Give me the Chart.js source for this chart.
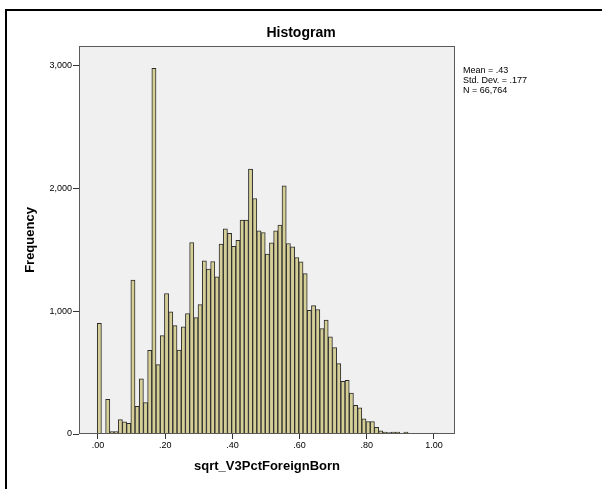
<!DOCTYPE html>
<html>
<head>
<meta charset="utf-8">
<script src="https://cdn.jsdelivr.net/npm/chart.js@4.4.1/dist/chart.umd.min.js"></script>
<style>
  html, body { margin: 0; padding: 0; background: #fff; }
</style>
</head>
<body>
<canvas id="hist" width="602" height="489"></canvas>
<script>
// bins of sqrt_V3PctForeignBorn, first bin centre and width
var binFirst = 0.004;
var binWidth = 0.0125;

// frequency per bin
var frequency = [
    903, 0, 283, 20, 20, 117, 100, 86, 1254, 225, 449, 257, 683,
    2981, 566, 802, 1145, 996, 884, 685, 873, 982, 1561, 949, 1055,
    1412, 1344, 1406, 1281, 1548, 1673, 1635, 1529, 1578, 1744, 1744, 2160,
    1920, 1657, 1643, 1466, 1559, 1657, 1703, 2024, 1553, 1526, 1439, 1404,
    1308, 1009, 1047, 1015, 860, 928, 792, 704, 574, 430, 438, 334,
    233, 214, 124, 102, 102, 55, 26, 15, 12, 15, 15, 6, 15, 3, 0, 3, 0, 0, 0, 8
];

var xTickValues = [0, 0.2, 0.4, 0.6, 0.8, 1.0];
var xTickLabels = ['.00', '.20', '.40', '.60', '.80', '1.00'];
var yTickValues = [0, 1000, 2000, 3000];
var yTickLabels = ['0', '1,000', '2,000', '3,000'];
var statLines = ['Mean = .43', 'Std. Dev. = .177', 'N = 66,764'];

var fontFamily = "'Liberation Sans', Arial, sans-serif";

var points = frequency.map(function (f, i) {
    return { x: binFirst + i * binWidth, y: f };
});

// grey plot background, white page
var backdrop = {
    id: 'backdrop',
    beforeDraw: function (chart) {
        var ctx = chart.ctx, a = chart.chartArea;
        ctx.save();
        ctx.fillStyle = '#ffffff';
        ctx.fillRect(0, 0, chart.width, chart.height);
        ctx.fillStyle = '#f0f0f0';
        ctx.fillRect(a.left, a.top, a.right - a.left, a.bottom - a.top);
        ctx.restore();
    },
    afterDatasetsDraw: function (chart) {
        var ctx = chart.ctx, a = chart.chartArea;
        ctx.save();
        ctx.strokeStyle = '#5a5a5a';
        ctx.lineWidth = 1;
        ctx.strokeRect(a.left + 0.5, a.top + 0.5, a.right - a.left - 1, a.bottom - a.top - 1);
        ctx.restore();
    },
    afterDraw: function (chart) {
        var ctx = chart.ctx;
        ctx.save();
        // outer frame of the output window
        ctx.strokeStyle = '#000';
        ctx.lineWidth = 2;
        ctx.beginPath();
        ctx.moveTo(chart.width, 10);
        ctx.lineTo(6, 10);
        ctx.lineTo(6, chart.height);
        ctx.stroke();
        // stats box
        ctx.fillStyle = '#000';
        ctx.font = '9px ' + fontFamily;
        ctx.textBaseline = 'middle';
        ctx.textAlign = 'left';
        statLines.forEach(function (s, i) {
            ctx.fillText(s, 463, 71 + i * 10);
        });
        ctx.restore();
    }
};

new Chart(document.getElementById('hist'), {
    type: 'bar',
    data: {
        datasets: [{
            label: 'Frequency',
            data: points,
            backgroundColor: '#d5cf97',
            borderColor: '#2b2b2b',
            borderWidth: 1,
            barPercentage: 1,
            categoryPercentage: 1
        }]
    },
    options: {
        responsive: false,
        animation: false,
        devicePixelRatio: 1,
        layout: { padding: 0 },
        plugins: {
            legend: { display: false },
            tooltip: { enabled: false },
            title: {
                display: true,
                text: 'Histogram',
                color: '#000',
                font: { family: fontFamily, size: 14, weight: 'bold' },
                padding: { top: 25, bottom: 4.2 }
            }
        },
        scales: {
            x: {
                type: 'linear',
                offset: false,
                min: -0.0565,
                max: 1.0625,
                afterBuildTicks: function (scale) {
                    scale.ticks = xTickValues.map(function (v) { return { value: v }; });
                },
                afterFit: function (scale) { scale.height = 55; },
                ticks: {
                    color: '#000',
                    font: { family: fontFamily, size: 9 },
                    padding: 1,
                    maxRotation: 0,
                    autoSkip: false,
                    callback: function (v, i) { return xTickLabels[i]; }
                },
                grid: { offset: false, drawOnChartArea: false, drawTicks: true, tickLength: 5, tickColor: '#333' },
                border: { display: false },
                title: {
                    display: true,
                    text: 'sqrt_V3PctForeignBorn',
                    color: '#000',
                    font: { family: fontFamily, size: 13, weight: 'bold' },
                    padding: { top: 0, bottom: 15.2 }
                }
            },
            y: {
                type: 'linear',
                position: 'left',
                min: 0,
                max: 3163,
                afterBuildTicks: function (scale) {
                    scale.ticks = yTickValues.map(function (v) { return { value: v }; });
                },
                afterFit: function (scale) { scale.width = 79; },
                ticks: {
                    color: '#000',
                    font: { family: fontFamily, size: 9 },
                    padding: 1,
                    autoSkip: false,
                    callback: function (v, i) { return yTickLabels[i]; }
                },
                grid: { drawOnChartArea: false, drawTicks: true, tickLength: 6, tickColor: '#333' },
                border: { display: false },
                title: {
                    display: true,
                    text: 'Frequency',
                    color: '#000',
                    font: { family: fontFamily, size: 13, weight: 'bold' },
                    padding: { top: 22.2, bottom: 0 }
                }
            },
            side: {
                type: 'linear',
                position: 'right',
                display: true,
                afterFit: function (scale) { scale.width = 147; },
                ticks: { display: false },
                grid: { display: false, drawTicks: false },
                border: { display: false }
            }
        }
    },
    plugins: [backdrop]
});
</script>
</body>
</html>
